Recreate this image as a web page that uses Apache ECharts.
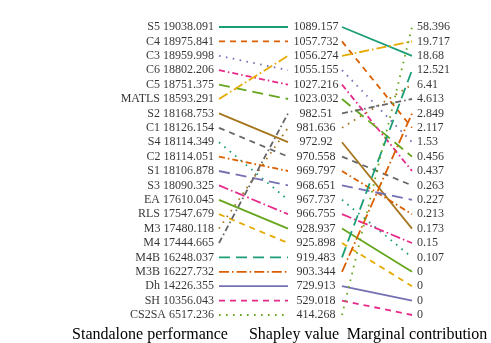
<!DOCTYPE html>
<html><head><meta charset="utf-8">
<script src="https://cdn.jsdelivr.net/npm/echarts@6/dist/echarts.min.js"></script>
<style>html,body{margin:0;padding:0;background:#fff}#c{width:491px;height:343px}</style>
</head><body><div id="c"></div>
<script>
const algorithms = ['S5','C4','C3','C6','C5','MATLS','S2','C1','S4','C2','S1','S3','EA','RLS','M3','M4','M4B','M3B','Dh','SH','CS2SA'];
const standalone = [19038.091,18975.841,18959.998,18802.206,18751.375,18593.291,18168.753,18126.154,18114.349,18114.051,18106.878,18090.325,17610.045,17547.679,17480.118,17444.665,16248.037,16227.732,14226.355,10356.043,6517.236];
const shapley = [1089.157,1057.732,1055.155,1027.216,1023.032,1056.274,972.92,970.558,967.737,969.797,968.651,966.755,928.937,925.898,981.636,982.51,919.483,903.344,729.913,529.018,414.268];
const marginal = [18.68,2.117,1.53,0.437,0.456,19.717,0.173,0.263,0.107,0.213,0.227,0.15,0,0,6.41,4.613,12.521,2.849,0,0,58.396];
const columnTitles = ['Standalone performance','Shapley value','Marginal contribution'];

const palette = ['#1b9e77','#d95f02','#7570b3','#e7298a','#66a61e','#e6ab02','#a6761d','#666666'];
const dashes = ['solid',[6,5],[1.6,5.4],[6,3,1.6,3],[11,6],[10,3,1.6,3]];
const FONT = 'Liberation Serif';
// column x positions (axis units)
const X = {l0:0, l1:69, mid:97, r0:123, r1:193};

function ranks(vals){
  const idx = vals.map((v,i)=>i);
  idx.sort((a,b)=> (vals[b]-vals[a]) || (a-b));
  const r = new Array(vals.length);
  idx.forEach((k,pos)=> r[k]=pos);
  return r;
}
const rS = ranks(standalone), rSh = ranks(shapley), rM = ranks(marginal);
const n = algorithms.length;

const series = [];
for (let i=0;i<n;i++){
  const ls = {color: palette[i%8], width:1.8, type: dashes[i%6], cap:'butt'};
  series.push({type:'line', data:[[X.l0,rS[i]],[X.l1,rSh[i]]], showSymbol:false, symbol:'none', lineStyle:ls, silent:true, z:2});
  series.push({type:'line', data:[[X.r0,rSh[i]],[X.r1,rM[i]]], showSymbol:false, symbol:'none', lineStyle:ls, silent:true, z:2});
}
const lab = {fontFamily:FONT, fontSize:12, color:'#000'};
series.push({type:'scatter', symbolSize:0, silent:true,
  data: algorithms.map((a,i)=>({value:[X.l0,rS[i]], name:a+' '+standalone[i]})),
  label:{show:true, position:'left', distance:5, formatter:p=>p.name, ...lab}});
series.push({type:'scatter', symbolSize:0, silent:true,
  data: algorithms.map((a,i)=>({value:[X.mid,rSh[i]], name:String(shapley[i])})),
  label:{show:true, position:'inside', formatter:p=>p.name, ...lab}});
series.push({type:'scatter', symbolSize:0, silent:true,
  data: algorithms.map((a,i)=>({value:[X.r1,rM[i]], name:String(marginal[i])})),
  label:{show:true, position:'right', distance:5, formatter:p=>p.name, ...lab}});

const titleX = [150, 294, 417];
const chart = echarts.init(document.getElementById('c'), null, {renderer:'canvas'});
chart.setOption({
  animation:false,
  grid:{left:219, top:27, width:193, height:288},
  xAxis:{type:'value', min:0, max:193, show:false},
  yAxis:{type:'value', min:0, max:n-1, inverse:true, show:false},
  graphic: columnTitles.map((t,k)=>({type:'text', x:titleX[k], y:335,
    style:{text:t, fontFamily:FONT, fontSize:16, fill:'#000', textAlign:'center', textVerticalAlign:'middle'}})),
  series
});
</script></body></html>
